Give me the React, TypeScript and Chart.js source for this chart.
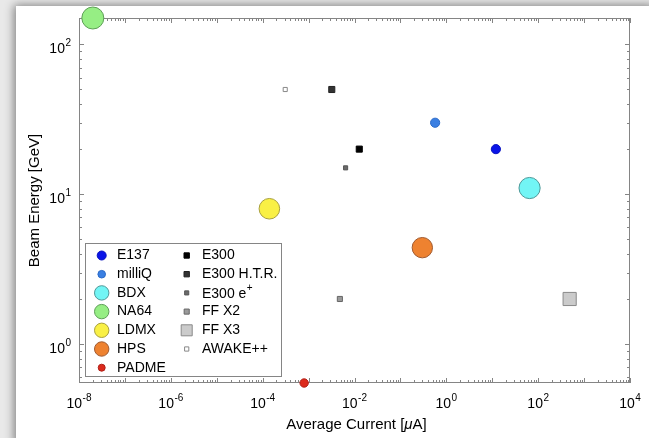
import React, { useEffect, useRef } from 'react';
import { Chart, registerables } from 'chart.js';

Chart.register(...registerables);

// ---- data ----
const seriesLabels = ['E137', 'milliQ', 'BDX', 'NA64', 'LDMX', 'HPS', 'PADME', 'E300', 'E300 H.T.R.', 'E300 e+', 'FF X2', 'FF X3', 'AWAKE++'];
const currents = [12, 0.57, 65, 2e-8, 1.4e-4, 0.3, 8e-4, 0.0127, 0.0032, 0.0064, 0.0048, 485, 3.1e-4];
const energies = [20, 30, 11, 150, 8, 4.4, 0.55, 20, 50, 15, 2, 2, 50];
const xMajorTicks = [1e-8, 1e-6, 1e-4, 1e-2, 1, 1e2, 1e4];
const yMajorTicks = [1, 10, 100];
const xTitle = 'Average Current [';
const yTitle = 'Beam Energy [GeV]';

// ---- styles ----
const shapes = ['circle', 'circle', 'circle', 'circle', 'circle', 'circle', 'circle', 'rect', 'rect', 'rect', 'rect', 'rect', 'rect'];
const fills = ['#0a14e8', '#3a7fe2', '#72f5f5', '#96ee84', '#f9f045', '#ee8230', '#dc2a1c', '#000000', '#333333', '#6a6a6a', '#9a9a9a', '#cbcbcb', '#ffffff'];
const strokes = ['#0a14c0', '#2a6ac8', '#4f9898', '#5f9f58', '#a8a040', '#a05a30', '#b02018', '#000000', '#222222', '#555555', '#666666', '#8a8a8a', '#888888'];
const radii = [4.6, 4.6, 10.6, 11, 10.3, 10.2, 4.2, 4.3, 4.3, 2.9, 3.6, 9.3, 2.9];
const legendRadii = [4.5, 3.8, 7.2, 7.2, 7.2, 7.2, 3.5, 3.8, 3.8, 2.9, 3.6, 7.8, 3.0];

const FONT = '"Liberation Sans", Arial, Helvetica, sans-serif';
const FRAME = '#858585';

function drawMarker(ctx: CanvasRenderingContext2D, shape: string, x: number, y: number, r: number, fill: string, stroke: string) {
  ctx.save();
  ctx.beginPath();
  if (shape === 'circle') {
    ctx.arc(x, y, r, 0, Math.PI * 2);
  } else {
    const s = Math.SQRT1_2 * r;
    ctx.rect(x - s, y - s, 2 * s, 2 * s);
  }
  ctx.fillStyle = fill;
  ctx.fill();
  ctx.lineWidth = 1;
  ctx.strokeStyle = stroke;
  ctx.stroke();
  ctx.restore();
}

function drawPow(ctx: CanvasRenderingContext2D, exp: string, x: number, y: number, align: 'center' | 'right') {
  ctx.save();
  ctx.font = '14px ' + FONT;
  const wb = ctx.measureText('10').width;
  ctx.font = '10px ' + FONT;
  const we = ctx.measureText(exp).width;
  const total = wb + we + 0.5;
  const x0 = align === 'center' ? x - total / 2 : x - total;
  ctx.fillStyle = '#000';
  ctx.textBaseline = 'alphabetic';
  ctx.textAlign = 'left';
  ctx.font = '14px ' + FONT;
  ctx.fillText('10', x0, y);
  ctx.font = '10px ' + FONT;
  ctx.fillText(exp, x0 + wb + 0.5, y - 7);
  ctx.restore();
}

const framePlugin = {
  id: 'frame',
  beforeDatasetsDraw(chart: any) {
    const ctx: CanvasRenderingContext2D = chart.ctx;
    const { left, right, top, bottom } = chart.chartArea;
    const xs = chart.scales.x;
    const ys = chart.scales.y;
    ctx.save();
    ctx.strokeStyle = FRAME;
    ctx.lineWidth = 1;
    ctx.strokeRect(left + 0.5, top + 0.5, right - left - 1, bottom - top - 1);
    const tick = (x1: number, y1: number, x2: number, y2: number) => {
      ctx.beginPath();
      ctx.moveTo(x1, y1);
      ctx.lineTo(x2, y2);
      ctx.stroke();
    };
    // x ticks
    const xmin = xs.min, xmax = xs.max;
    for (let e = Math.floor(Math.log10(xmin)); e <= Math.ceil(Math.log10(xmax)); e++) {
      for (let m = 1; m <= 9; m++) {
        const v = m * Math.pow(10, e);
        if (v < xmin * 0.999 || v > xmax * 1.001) continue;
        const px = Math.round(xs.getPixelForValue(v)) + 0.5;
        const len = m === 1 ? 5 : 3;
        tick(px, bottom, px, bottom - len);
        tick(px, top, px, top + len);
      }
    }
    const ymin = ys.min, ymax = ys.max;
    for (let e = Math.floor(Math.log10(ymin)); e <= Math.ceil(Math.log10(ymax)); e++) {
      for (let m = 1; m <= 9; m++) {
        const v = m * Math.pow(10, e);
        if (v < ymin * 0.999 || v > ymax * 1.001) continue;
        const py = Math.round(ys.getPixelForValue(v)) + 0.5;
        const len = m === 1 ? 5 : 3;
        tick(left, py, left + len, py);
        tick(right, py, right - len, py);
      }
    }
    ctx.restore();
    // tick labels
    for (const v of xMajorTicks) {
      drawPow(ctx, String(Math.round(Math.log10(v))), xs.getPixelForValue(v), bottom + 25, 'center');
    }
    for (const v of yMajorTicks) {
      drawPow(ctx, String(Math.round(Math.log10(v))), left - 8, ys.getPixelForValue(v) + 9, 'right');
    }
    // titles
    ctx.save();
    ctx.fillStyle = '#000';
    ctx.font = '15px ' + FONT;
    const w1 = ctx.measureText(xTitle).width;
    ctx.font = 'italic 15px ' + FONT;
    const wm = ctx.measureText('\u03bc').width;
    ctx.font = '15px ' + FONT;
    const w2 = ctx.measureText('A]').width;
    const cx = (left + right) / 2 + 2;
    let xx = cx - (w1 + wm + w2) / 2;
    ctx.textBaseline = 'alphabetic';
    ctx.textAlign = 'left';
    ctx.fillText(xTitle, xx, bottom + 46);
    xx += w1;
    ctx.font = 'italic 15px ' + FONT;
    ctx.fillText('\u03bc', xx, bottom + 46);
    xx += wm;
    ctx.font = '15px ' + FONT;
    ctx.fillText('A]', xx, bottom + 46);
    ctx.translate(39, (top + bottom) / 2);
    ctx.rotate(-Math.PI / 2);
    ctx.textAlign = 'center';
    ctx.fillText(yTitle, 0, 0);
    ctx.restore();
  },
  afterDatasetsDraw(chart: any) {
    const ctx: CanvasRenderingContext2D = chart.ctx;
    const bx = 85, by = 243, bw = 197, bh = 134;
    ctx.save();
    ctx.fillStyle = '#fff';
    ctx.fillRect(bx, by, bw, bh);
    ctx.strokeStyle = FRAME;
    ctx.lineWidth = 1;
    ctx.strokeRect(bx + 0.5, by + 0.5, bw - 1, bh - 1);
    const ds = chart.data.datasets;
    const perCol = 7;
    for (let i = 0; i < ds.length; i++) {
      const col = i < perCol ? 0 : 1;
      const row = col === 0 ? i : i - perCol;
      const mx = col === 0 ? 101.7 : 186.7;
      const tx = col === 0 ? 117 : 202;
      const y = 255.5 + row * 18.7;
      const d = ds[i];
      drawMarker(ctx, d.pointStyle, mx, y, legendRadii[i], d.backgroundColor, d.borderColor);
      ctx.fillStyle = '#000';
      ctx.font = '14px ' + FONT;
      ctx.textBaseline = 'middle';
      ctx.textAlign = 'left';
      const label: string = d.label;
      if (label.endsWith('+') && label.includes(' e')) {
        const base = label.slice(0, -1);
        ctx.fillText(base, tx, y + 1);
        const w = ctx.measureText(base).width;
        ctx.font = '10px ' + FONT;
        ctx.fillText('+', tx + w + 0.5, y - 5);
      } else {
        ctx.fillText(label, tx, y);
      }
    }
    ctx.restore();
  },
};

export default function App() {
  const ref = useRef<HTMLCanvasElement | null>(null);
  useEffect(() => {
    document.body.style.margin = '0';
    if (!ref.current) return;
    const datasets = seriesLabels.map((lab, i) => ({
      label: lab,
      data: [{ x: currents[i], y: energies[i] }],
      pointStyle: shapes[i],
      pointRadius: radii[i],
      pointHoverRadius: radii[i],
      backgroundColor: fills[i],
      borderColor: strokes[i],
      pointBorderWidth: 1,
      borderWidth: 1,
      showLine: false,
      clip: false,
    }));
    const chart = new Chart(ref.current, {
      type: 'scatter',
      data: { datasets } as any,
      options: {
        animation: false,
        responsive: false,
        events: [],
        layout: { padding: { left: 79, top: 18, right: 19, bottom: 55 } },
        plugins: { legend: { display: false }, tooltip: { enabled: false } },
        scales: {
          x: { type: 'logarithmic', min: 1e-8, max: 1e4, display: false },
          y: { type: 'logarithmic', min: 0.55, max: 150, display: false },
        },
      },
      plugins: [framePlugin],
    } as any);
    return () => chart.destroy();
  }, []);
  return (
    <div style={{ position: 'relative', width: 649, height: 438, background: '#e9e9e9', overflow: 'hidden' }}>
      <div style={{ position: 'absolute', left: 16, top: 6, width: 640, height: 440, background: '#fff', boxShadow: '-2px -1px 9px rgba(0,0,0,0.45)' }} />
      <canvas ref={ref} width={649} height={438} style={{ position: 'absolute', left: 0, top: 0, width: 649, height: 438 }} />
    </div>
  );
}
